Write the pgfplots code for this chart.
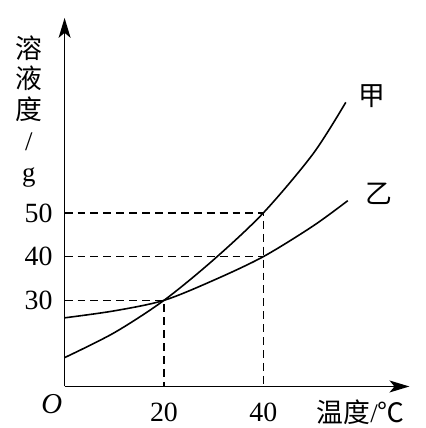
\documentclass[border=0pt]{standalone}
\usepackage{fontspec}
\setmainfont{Liberation Serif}
\newfontfamily\cjk{Noto Sans CJK SC}
\usepackage{pgfplots}
\pgfplotsset{compat=1.18}
\usetikzlibrary{arrows.meta}
\begin{document}
\begin{tikzpicture}
\begin{axis}[
  scale only axis,
  width=347pt, height=370.9pt,
  xmin=0, xmax=69.4, ymin=10.3, ymax=94.6,
  axis lines=left,
  axis line style={line width=1.8pt, -{Stealth[length=20pt,width=12pt,inset=5pt]}},
  xtick={20,40}, ytick={30,40,50},
  major tick length=0pt,
  tick label style={font=\fontsize{28}{30}\selectfont, inner sep=0pt},
  /pgf/number format/assume math mode=true,
  xticklabel style={anchor=north, yshift=-16pt},
  yticklabel style={anchor=east, xshift=-12pt},
  clip=false,
]
\path (axis cs:-13,1.66) rectangle (axis cs:72.6,98.7);
% dashed guides
\addplot[black, line width=1.6pt, dash pattern=on 8pt off 5pt] coordinates {(0,50) (40,50) (40,10.3)};
\addplot[black, line width=1.6pt, dash pattern=on 8pt off 5pt] coordinates {(0,40) (40,40)};
\addplot[black, line width=1.6pt, dash pattern=on 8pt off 5pt] coordinates {(0,30) (20,30) (20,10.3)};
% curve jia
\addplot[black, line width=1.6pt, smooth] coordinates {
(0,16.9) (10,22.6) (20,30) (30,39.3) (40,50) (50,63.5) (56.6,75.3)};
% curve yi
\addplot[black, line width=1.6pt, smooth] coordinates {
(0,26) (10,27.6) (20,30) (30,34.6) (40,40) (50,47) (57,52.8)};
\node[font=\cjk\fontsize{27}{29}\selectfont] at (axis cs:61.8,76.7) {甲};
\node[font=\cjk\fontsize{27}{29}\selectfont] at (axis cs:63.2,54.4) {乙};
\node[font=\fontsize{29}{30}\selectfont\itshape] at (axis cs:-2.6,6.2) {O};
\node[font=\fontsize{27}{29}\selectfont] at (axis cs:59.6,4.4) {{\cjk 温度}/{\cjk ℃}};
\node[align=center, font=\fontsize{27}{31}\selectfont] at (axis cs:-7.2,73.25)
  {{\cjk 溶}\\{\cjk 液}\\{\cjk 度}\\/\\g};
\end{axis}
\end{tikzpicture}
\end{document}
